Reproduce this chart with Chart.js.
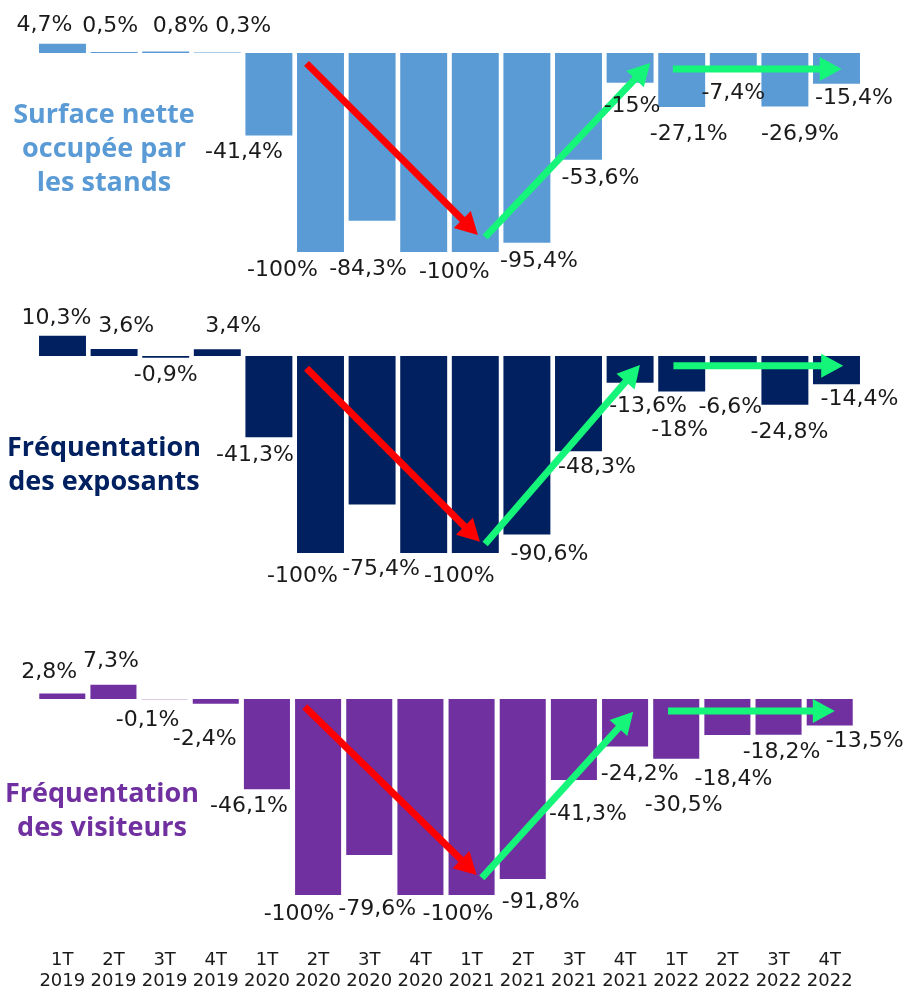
<!DOCTYPE html>
<html><head><meta charset="utf-8">
<script src="https://cdn.jsdelivr.net/npm/chart.js@4/dist/chart.umd.min.js"></script>
<style>
html,body{margin:0;padding:0;background:#fff;overflow:hidden;}
#wrap{position:relative;width:906px;height:993px;overflow:hidden;}
canvas{position:absolute;left:0;}
.title{position:absolute;left:0;width:208px;text-align:center;font-family:"Open Sans",sans-serif;font-weight:700;font-size:27px;line-height:34px;white-space:nowrap;}
</style></head><body>
<div id="wrap">
<canvas id="c1" width="906" height="300" style="top:0px"></canvas>
<canvas id="c2" width="906" height="320" style="top:300px"></canvas>
<canvas id="c3" width="906" height="408" style="top:620px"></canvas>
<div class="title" style="top:96px;color:#5B9BD5">Surface nette<br>occupée par<br>les stands</div>
<div class="title" style="top:429px;color:#002060">Fréquentation<br>des exposants</div>
<div class="title" style="top:775px;left:-2px;color:#7030A0">Fréquentation<br>des visiteurs</div>
</div>
<script>
// ---- data ----
const quarters = ["1T","2T","3T","4T","1T","2T","3T","4T","1T","2T","3T","4T","1T","2T","3T","4T"];
const years = ["2019","2019","2019","2019","2020","2020","2020","2020","2021","2021","2021","2021","2022","2022","2022","2022"];
const surfaceNette = [4.7,0.5,0.8,0.3,-41.4,-100,-84.3,-100,-100,-95.4,-53.6,-15,-27.1,-7.4,-26.9,-15.4];
const exposants = [10.3,3.6,-0.9,3.4,-41.3,-100,-75.4,-100,-100,-90.6,-48.3,-13.6,-18,-6.6,-24.8,-14.4];
const visiteurs = [2.8,7.3,-0.1,-2.4,-46.1,-100,-79.6,-100,-100,-91.8,-41.3,-24.2,-30.5,-18.4,-18.2,-13.5];
const hiddenLabels = [7];

// ---- annotation arrows (data space: [category index, value]) ----
const arrowsSurface = [
  {color:"#FF0000", from:[4.73,-5.2], to:[8.05,-91.5]},
  {color:"#14F57A", from:[8.19,-92.5], to:[11.39,-5]},
  {color:"#14F57A", from:[11.83,-8], to:[15.1,-8]}
];
const arrowsExposants = [
  {color:"#FF0000", from:[4.73,-6.2], to:[8.09,-94.3]},
  {color:"#14F57A", from:[8.19,-95.4], to:[11.19,-4.6]},
  {color:"#14F57A", from:[11.84,-4.9], to:[15.13,-4.9]}
];
const arrowsVisiteurs = [
  {color:"#FF0000", from:[4.74,-3.9], to:[8.10,-89.8]},
  {color:"#14F57A", from:[8.2,-91.3], to:[11.16,-6.5]},
  {color:"#14F57A", from:[11.84,-6.1], to:[15.1,-6.1]}
];

// ---- label layout nudges (pixels, relative to default label spot) ----
const nudgeSurface = [[-18,0],[-4,-8],[15,-7],[26,-8],[-25,-1],[-38,0],[-4,31],[0,0],[-21,2],[12,0],[22,1],[2,5],[7,9],[0,8],[15,9.5],[17.5,-3]];
const nudgeExposants = [[-6,1],[12,-5],[0,0],[16,-5],[-14,0],[-18,5],[9,46.5],[0,0],[-16,5],[22.6,1.5],[18.5,-2],[18,5],[-2,20.5],[-3,20],[4.6,9],[23,-3.4]];
const nudgeVisiteurs = [[-13,-3.5],[-2.5,-5],[-17,3],[-11,18],[-18,-1.5],[-19,1],[8,36],[0,0],[-13.6,1],[18,5],[14,16],[14.6,10],[7.5,29],[6,26],[3,0],[35,-2.5]];

function fmt(v){ return String(v).replace('.', ',') + '%'; }

function drawArrow(ctx, x0, y0, x1, y1, color){
  const dx = x1-x0, dy = y1-y0, len = Math.hypot(dx,dy);
  const ux = dx/len, uy = dy/len;
  const head = 22, half = 12;
  const bx = x1 - ux*head, by = y1 - uy*head;
  ctx.strokeStyle = color; ctx.fillStyle = color;
  ctx.lineWidth = 7; ctx.lineCap = 'butt';
  ctx.beginPath(); ctx.moveTo(x0,y0); ctx.lineTo(bx+ux*1,by+uy*1); ctx.stroke();
  ctx.beginPath();
  ctx.moveTo(x1,y1);
  ctx.lineTo(bx - uy*half, by + ux*half);
  ctx.lineTo(bx + uy*half, by - ux*half);
  ctx.closePath(); ctx.fill();
}

const overlayPlugin = {
  id:'overlay',
  afterDatasetsDraw(chart, args, opts){
    const ctx = chart.ctx;
    const xs = chart.scales.x, ys = chart.scales.y;
    ctx.save();
    opts.arrows.forEach(a => {
      drawArrow(ctx, xs.getPixelForValue(a.from[0]), ys.getPixelForValue(a.from[1]),
                     xs.getPixelForValue(a.to[0]), ys.getPixelForValue(a.to[1]), a.color);
    });
    const meta = chart.getDatasetMeta(0);
    const data = chart.data.datasets[0].data;
    ctx.font = '22px "DejaVu Sans"';
    ctx.fillStyle = '#1a1a1a';
    ctx.textAlign = 'center';
    ctx.textBaseline = 'middle';
    meta.data.forEach((bar, i) => {
      if (hiddenLabels.includes(i)) return;
      const v = data[i];
      const n = opts.nudge[i];
      const y = v >= 0 ? bar.y - 18 : bar.y + 18;
      ctx.fillText(fmt(v), bar.x + n[0], y + n[1]);
    });
    ctx.restore();
  }
};

function makeChart(id, values, color, padding, barPct, showX, nudge, arrows){
  return new Chart(document.getElementById(id), {
    type:'bar',
    data:{
      labels: quarters.map((q,i) => [q, years[i]]),
      datasets:[{data: values, backgroundColor: color, barPercentage: barPct, categoryPercentage: 1, borderWidth: 0}]
    },
    options:{
      responsive:false, animation:false, devicePixelRatio:1,
      layout:{padding: padding},
      plugins:{legend:{display:false}, tooltip:{enabled:false}, overlay:{nudge: nudge, arrows: arrows}},
      scales:{
        x:{display: showX, grid:{display:false, drawTicks:false}, border:{display:false},
           ticks:{font:{family:'DejaVu Sans', size:18}, color:'#1a1a1a', padding:34.6, maxRotation:0, minRotation:0, autoSkip:false}},
        y:{display:false, min:-110, max:20}
      }
    },
    plugins:[overlayPlugin]
  });
}

makeChart('c1', surfaceNette, '#5B9BD5', {top:13.2, bottom:28.1, left:36.7, right:43.7}, 0.91, false, nudgeSurface, arrowsSurface);
makeChart('c2', exposants, '#002060', {top:16.6, bottom:47.3, left:36.7, right:43.7}, 0.91, false, nudgeExposants, arrowsExposants);
makeChart('c3', visiteurs, '#7030A0', {top:39.8, bottom:1, left:36.7, right:50.7}, 0.9, true, nudgeVisiteurs, arrowsVisiteurs);
</script>
</body></html>
